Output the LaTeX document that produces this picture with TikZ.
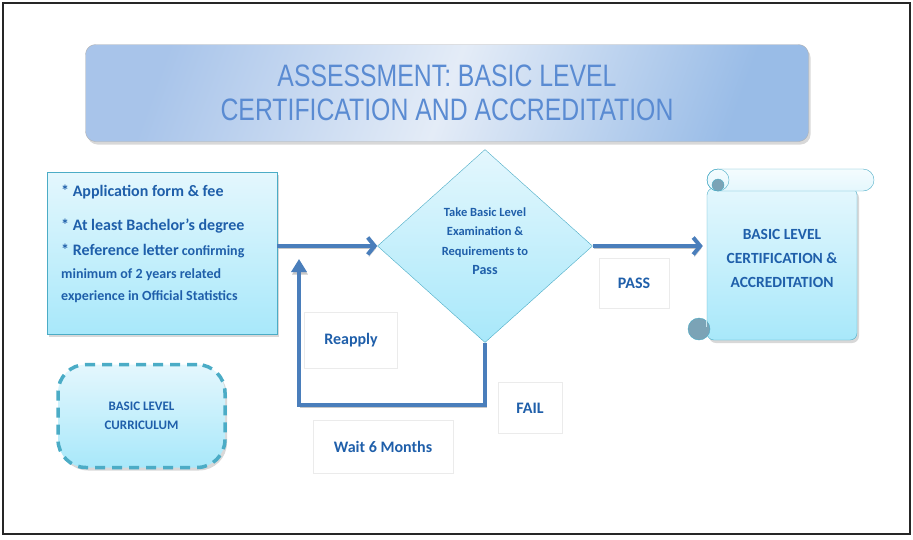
\documentclass[tikz,border=0pt]{standalone}
\usepackage{fontspec}
\setmainfont{Carlito}
\newfontfamily\headfont[FakeStretch=0.8]{Liberation Sans}
\usetikzlibrary{shapes.geometric,shadows}
\usetikzlibrary{arrows.meta}
\definecolor{hd1}{HTML}{A8C4EA}
\definecolor{hd2}{HTML}{E4ECF7}
\definecolor{hd3}{HTML}{99BCE7}
\definecolor{hdt}{HTML}{5A8BD2}
\definecolor{bx1}{HTML}{E4F7FD}
\definecolor{bx2}{HTML}{A8E8FA}
\definecolor{tl}{HTML}{4BACC6}
\definecolor{tx}{HTML}{1F5FAA}
\definecolor{ar}{HTML}{4A7EBB}
\definecolor{cu}{HTML}{7BA3B6}

\begin{document}
\begin{tikzpicture}[x=1pt,y=-1pt,
		box/.style={draw=tl, top color=bx1, bottom color=bx2},
		shadowed/.style={drop shadow={shadow xshift=2pt,shadow yshift=-3pt,fill=black!30}},
		tagbox/.style={draw=black!8, fill=white, text=tx, font=\fontsize{16}{18}\selectfont\bfseries},
		flow/.style={ar, line width=4pt, line join=miter,
			preaction={draw=black!22, transform canvas={xshift=1pt,yshift=-2.5pt}}}]

			\useasboundingbox (0,0) rectangle (913,539);

			% Frame
			\draw[line width=2pt, black!85] (3,3) rectangle (910,534);

			% Heading
			\node[draw=black!30, rounded corners=10pt, left color=hd1, right color=hd3, middle color=hd2,
				shading angle=70, shadowed, minimum width=723pt, minimum height=97pt, align=center,
				text=hdt, font=\headfont\fontsize{31}{34}\selectfont] (head) at (447,93)
				{ASSESSMENT: BASIC LEVEL\\CERTIFICATION AND ACCREDITATION};

			% Requirements
			\node[box, shadowed, minimum width=230pt, minimum height=162pt] (req) at (162,253) {};
			\node[anchor=base west, align=left, inner sep=0pt, text=tx, font=\fontsize{14}{22}\selectfont\bfseries] (reqtxt) at (61,300)
				{{\fontsize{16}{19}\selectfont * Application form \& fee}\\[12pt]
				{\fontsize{16}{19}\selectfont * At least Bachelor’s degree}\\[3pt]
				{\fontsize{16}{19}\selectfont * Reference letter} confirming\\[1pt]
				minimum of 2 years related\\
				experience in Official Statistics};

			% Examination
			\node[box, diamond, minimum width=215pt, minimum height=193pt, inner sep=0pt] (exam) at (485,246) {};
			\node[align=center, text=tx, font=\fontsize{12.5}{19.5}\selectfont\bfseries] (examtxt) at (485,241)
				{Take Basic Level\\Examination \&\\Requirements to\\{\fontsize{14}{19.5}\selectfont Pass}};

			% Certificate scroll
			\node[box, shadowed, rounded corners=7pt, minimum width=150pt, minimum height=152pt] (cert) at (782,264) {};
			\draw[tl, top color=white!60!bx1, bottom color=bx1, rounded corners=11pt] (707,169) rectangle (874,191);
			\draw[tl] (718,180) circle (11);
			\filldraw[tl, fill=cu] (718,185) circle (6);
			\filldraw[tl, fill=cu] (699,329) circle (11);
			\draw[white!70!tl, thick] (706,320) -- (706,327);
			\node[align=center, text=tx, font=\fontsize{15.5}{24}\selectfont\bfseries] (certtxt) at (782,258)
				{BASIC LEVEL\\CERTIFICATION \&\\ACCREDITATION};

			% Curriculum
			\node[box, shadowed, rounded corners=28pt, line width=3.5pt, dash pattern=on 10pt off 7pt,
				minimum width=167pt, minimum height=103pt, align=center, text=tx,
				font=\fontsize{13}{19}\selectfont\bfseries] (curr) at (141.5,416) {BASIC LEVEL\\CURRICULUM};

			% Labels
			\node[tagbox, minimum width=93pt, minimum height=56pt] (reapply) at (351,340) {Reapply};
			\node[tagbox, minimum width=70pt, minimum height=50pt] (pass) at (634,283) {PASS};
			\node[tagbox, minimum width=64pt, minimum height=51pt] (fail) at (530,408) {FAIL};
			\node[tagbox, minimum width=140pt, minimum height=53pt] (wait) at (383,447) {Wait 6 Months};

			% Arrows
			\draw[flow, -{Straight Barb[length=7pt,width=17pt]}] (req.east |- exam.west) -- (exam.west);
			\draw[flow, -{Straight Barb[length=7pt,width=17pt]}, shorten >=4pt] (exam.east) -- (cert.west |- exam.east);

			% Fail loop
			\coordinate (turn) at (488,405);
			\coordinate (back) at (299,259);
			\draw[flow, -{Triangle[length=13pt,width=15pt]}] (exam.south) -- (exam.south |- turn) -| (back);
\end{tikzpicture}
\end{document}
